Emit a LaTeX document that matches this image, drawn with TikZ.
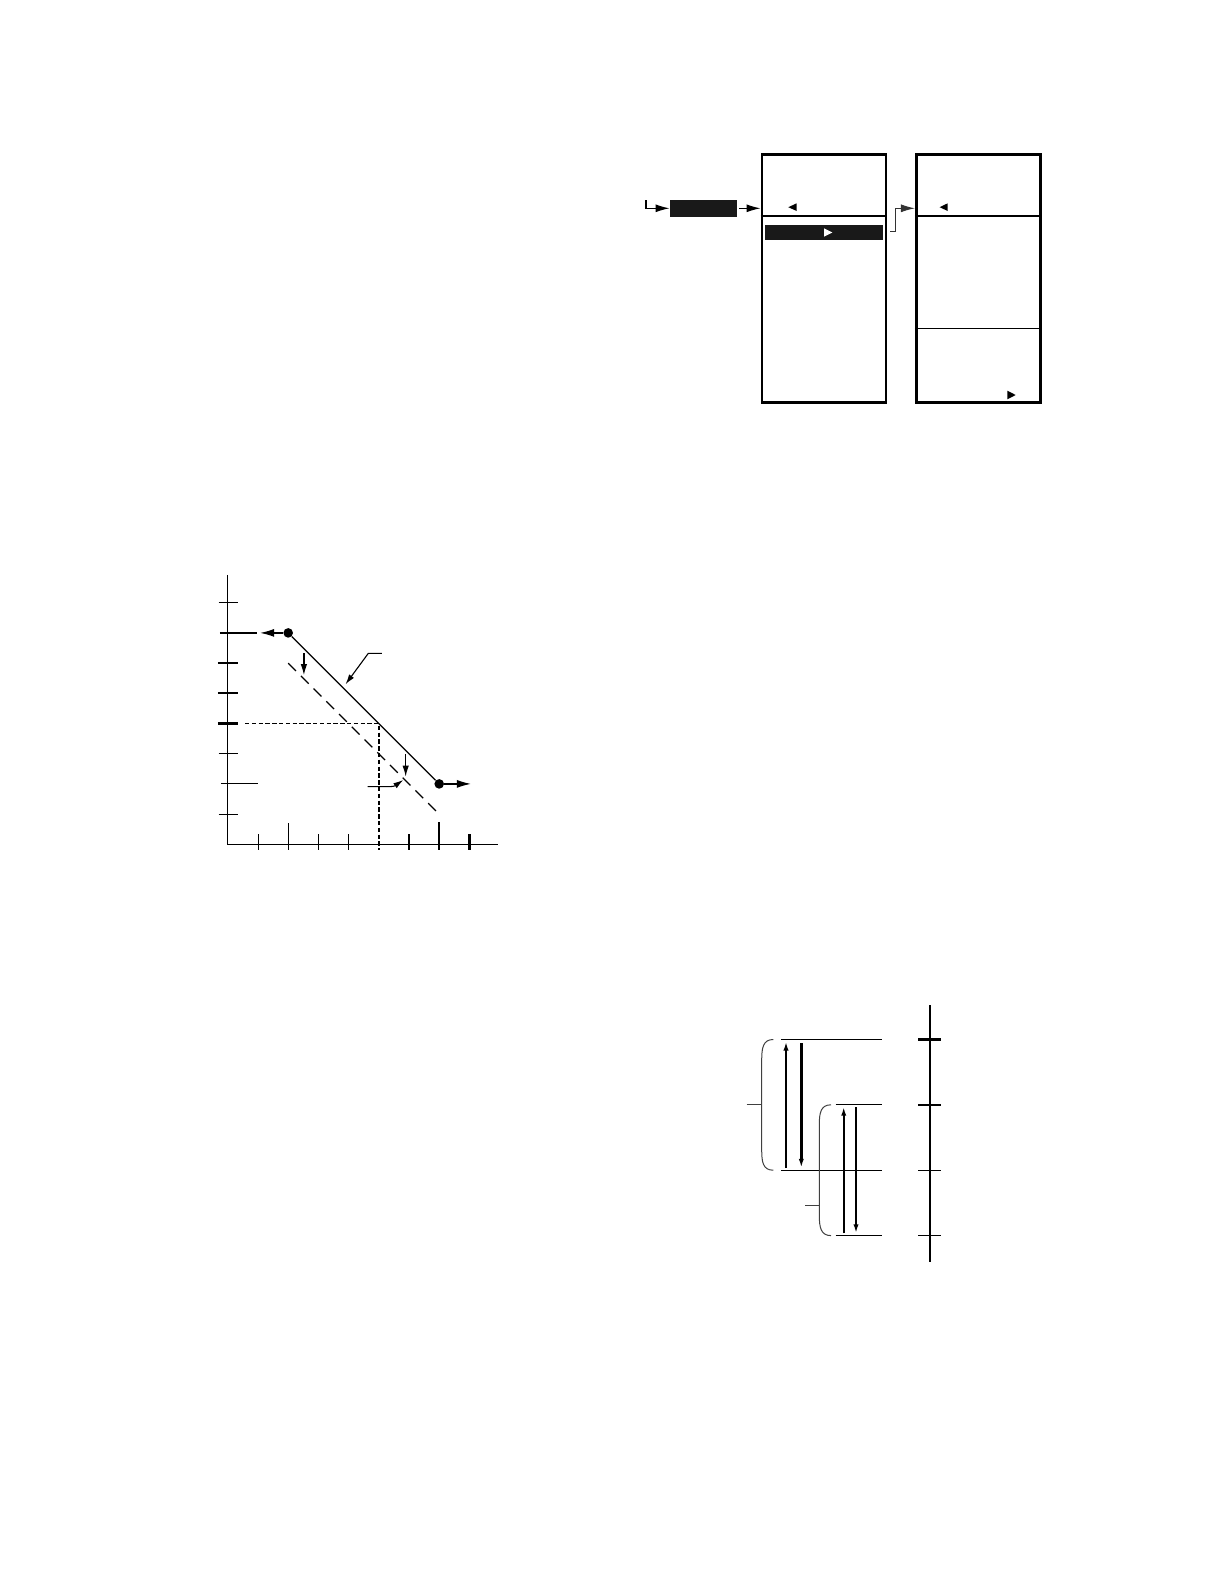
\documentclass[tikz,border=0pt]{standalone}
\usetikzlibrary{shapes, arrows.meta}
\tikzstyle{menubox} = [rectangle, draw, line width=1.4pt, minimum width=62pt, minimum height=123.8pt, inner sep=0pt]
\tikzstyle{cmdbox} = [rectangle, fill=black!90, minimum width=33.3pt, minimum height=8.3pt, inner sep=0pt]
\tikzstyle{selbar} = [rectangle, fill=black!90, minimum width=58.8pt, minimum height=7.5pt, inner sep=0pt]
\tikzstyle{dot} = [circle, fill, inner sep=0pt, minimum size=4.8pt]
\tikzstyle{line} = [draw, line width=0.65pt, -{Latex[length=7pt,width=4pt]}]
\tikzstyle{jogline} = [draw, line width=0.5pt, black!80, -{Latex[length=7pt,width=4pt]}]
\tikzstyle{divider} = [draw, line width=0.65pt]
\tikzstyle{axis} = [draw, line width=0.65pt]
\tikzstyle{tick} = [draw, line width=0.5pt]
\tikzstyle{thicktick} = [draw, line width=1.15pt]
\tikzstyle{curve} = [draw, line width=0.6pt]
\tikzstyle{shifted} = [draw, line width=0.6pt, dash pattern=on 5.5pt off 3.5pt]
\tikzstyle{guide} = [draw, line width=0.95pt, dash pattern=on 2.2pt off 1.2pt]
\tikzstyle{push} = [draw, line width=0.6pt, -{Latex[length=5.5pt,width=3.2pt]}]
\tikzstyle{leader} = [draw, line width=0.55pt, -{Latex[length=5pt,width=3pt]}]
\tikzstyle{level} = [draw, line width=0.6pt]
\tikzstyle{swing} = [draw, line width=1.2pt, -{Latex[length=4.5pt,width=2.6pt]}]
\tikzstyle{brace} = [draw, line width=0.5pt, black!75]

\begin{document}
\begin{tikzpicture}[x=0.5pt, y=-0.5pt]
    \useasboundingbox (0,0) rectangle (1224,1584);

    % menu screens
    \node[cmdbox] (cmd) at (703.3,208.3) {};
    \node[menubox] (menuA) at (824,278.5) {};
    \node[menubox] (menuB) at (978.3,278.5) {};
    \node[selbar] (bar) at (824.2,232.5) {};

    \path[divider] (menuA.west |- 0,216) -- (menuA.east |- 0,216);
    \path[divider] (menuB.west |- 0,216) -- (menuB.east |- 0,216);
    \path[draw, line width=0.5pt] (menuB.west |- 0,328.3) -- (menuB.east |- 0,328.3);

    \fill (796.7,203.3) -- (796.7,211) -- (788.3,207.2) -- cycle;
    \fill (947.7,203.3) -- (947.7,211) -- (939.6,207.2) -- cycle;
    \fill (1007.3,390.7) -- (1007.3,399.3) -- (1015.7,395) -- cycle;
    \fill[white] (824,228.3) -- (824,236.7) -- (832.3,232.5) -- cycle;

    \coordinate (feed) at (646,200);
    \coordinate (jog) at (890,231.7);
    \path[line] (feed) |- (cmd.west);
    \path[line] ([xshift=1.2pt]cmd.east) -- (cmd.east -| menuA.west);
    \path[jogline] (jog) -- ++(5.7,0) |- (cmd.east -| menuB.west);

    % price / quantity graph
    \begin{scope}[shift={(227.8,844.3)}, x=15.1pt, y=15.1pt]
        \path[axis] (0,8.92) -- (0,0) -- (8.96,0);
        \foreach \i in {1,3,8} \path[tick] (-0.3,\i) -- (0.33,\i);
        \foreach \i in {4,5,6} \path[thicktick] (-0.33,\i) -- (0.33,\i);
        \path[thicktick] (-0.26,7) -- (0.97,7);
        \path[tick] (-0.23,2) -- (1.01,2);
        \foreach \i in {1,3,4} \path[tick] (\i,0.33) -- (\i,-0.19);
        \foreach \i in {6,8} \path[thicktick] (\i,0.33) -- (\i,-0.19);
        \path[tick] (2,0.7) -- (2,-0.19);
        \path[thicktick] (7,0.73) -- (7,-0.19);

        \node[dot] (high) at (2,7) {};
        \node[dot] (low) at (7,2) {};
        \coordinate (cross) at (5,4);
        \coordinate (hleft) at (1.07,7);
        \coordinate (lright) at (8.05,2);

        \path[curve] (high) -- (low);
        \path[shifted] (2,6) -- (7,1);
        \path[guide] (0.57,4) -- (cross) -- (5,-0.19);
        \path[line, line width=0.6pt] (high) -- (hleft);
        \path[line, line width=0.6pt] (low) -- (lright);

        \path[push] (2.52,6.32) -- (2.52,5.6);
        \path[push] (5.89,2.98) -- (5.89,2.24);
        \path[leader] (5.1,6.32) -- (4.65,6.32) -- (3.9,5.3);
        \path[leader] (4.63,1.91) -- (5.39,1.91) to[out=0,in=215] (5.81,2.13);
    \end{scope}

    % level scale
    \path[draw, line width=1pt] (930,1005) -- (930,1262);
    \foreach \y in {1039.5,1104.8} \path[thicktick] (918,\y) -- (940.5,\y);
    \foreach \y in {1170.2,1235.6} \path[tick] (918,\y) -- (940.5,\y);

    \coordinate (topA) at (781,1039.5);
    \coordinate (topB) at (835.7,1104.8);
    \coordinate (botA) at (781,1170.2);
    \coordinate (botB) at (835.7,1235.6);
    \path[level] (topA) -- (882.3,1039.5);
    \path[level] (topB) -- (882.3,1104.8);
    \path[level] (botA) -- (882.3,1170.2);
    \path[level] (botB) -- (882.3,1235.6);

    \path[swing] (786,1168) -- (786,1041.5);
    \path[swing] (801.3,1043) -- (801.3,1167.8);
    \path[swing] (843.7,1233.3) -- (843.7,1106.7);
    \path[swing] (856,1107.3) -- (856,1233.3);

    \path[brace] (773.3,1039.5) .. controls (763,1039.5) and (761.7,1048) .. (761.7,1060)
        -- (761.7,1150) .. controls (761.7,1162) and (763,1170.2) .. (773.3,1170.2);
    \path[brace] (746.7,1104.5) -- (761.7,1104.5);
    \path[brace] (831,1104.8) .. controls (820.6,1104.8) and (819.3,1113) .. (819.3,1125)
        -- (819.3,1215) .. controls (819.3,1227) and (820.6,1235.6) .. (831,1235.6);
    \path[brace] (805,1205.7) -- (819.3,1205.7);
\end{tikzpicture}
\end{document}
